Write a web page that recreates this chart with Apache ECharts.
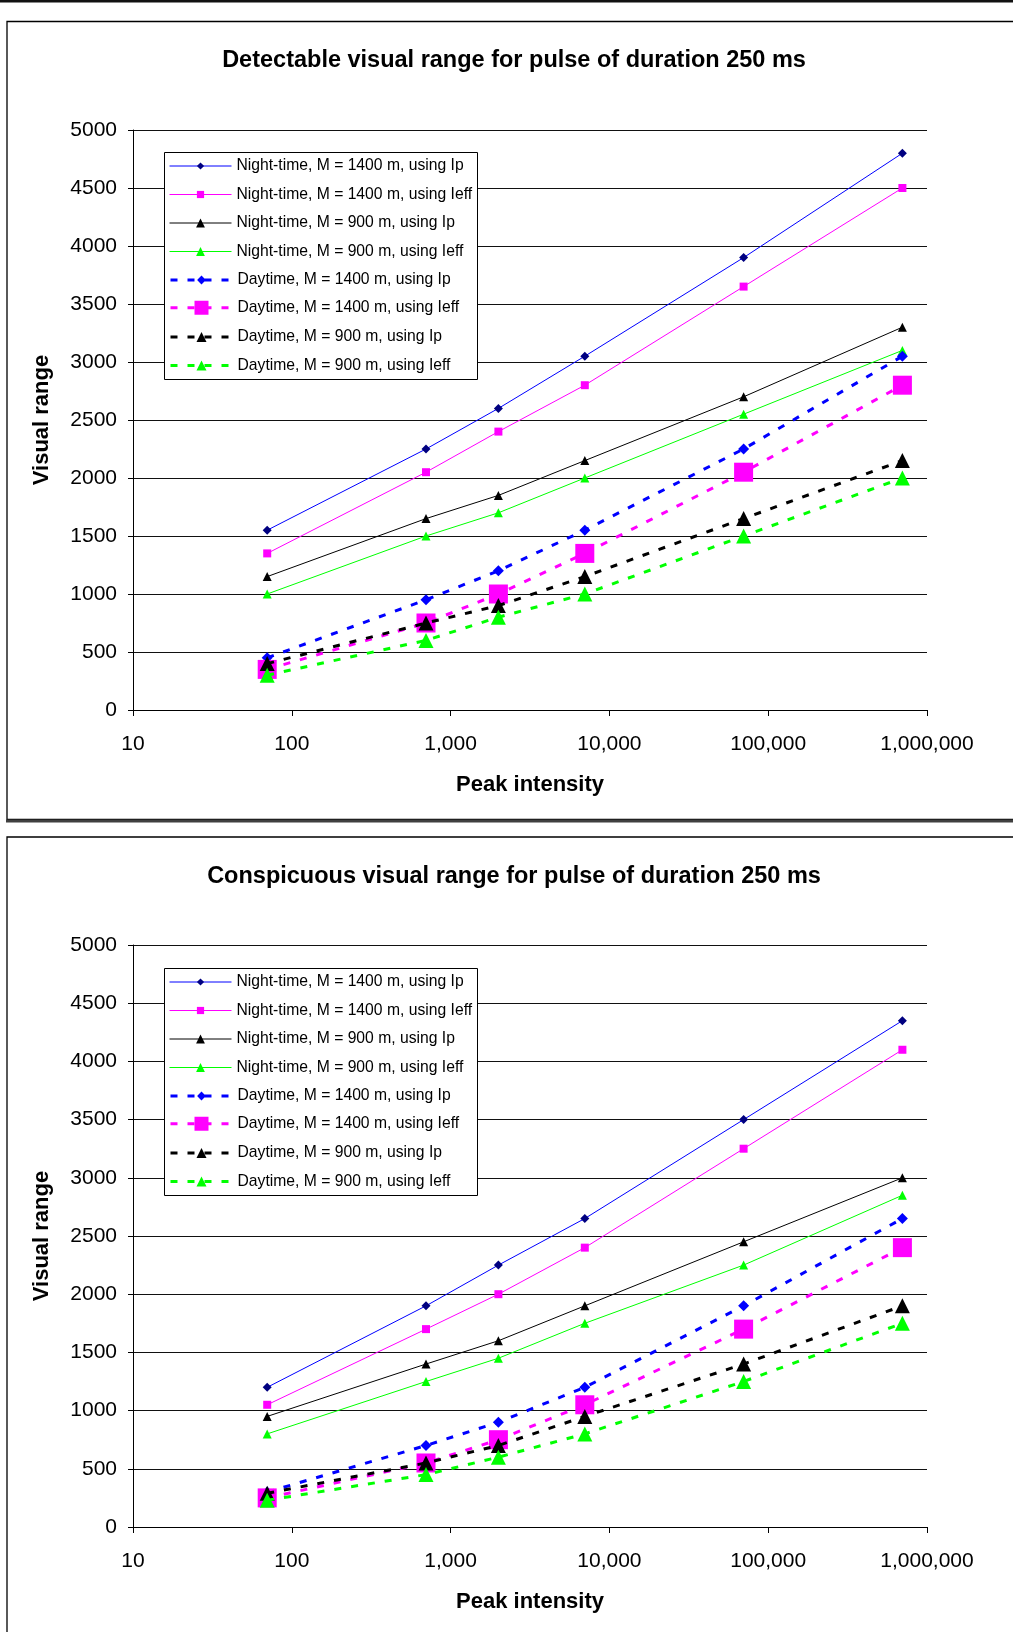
<!DOCTYPE html>
<html>
<head>
<meta charset="utf-8">
<script src="https://cdn.jsdelivr.net/npm/echarts@6/dist/echarts.min.js"></script>
<style>
html,body{margin:0;padding:0;background:#fff;}
#main{width:1013px;height:1632px;}
</style>
</head>
<body>
<div id="main"></div>
<script>
// ---- data ----
var peakIntensity = [70, 700, 2000, 7000, 70000, 700000];
var seriesNames = [
  'Night-time, M = 1400 m, using Ip',
  'Night-time, M = 1400 m, using Ieff',
  'Night-time, M = 900 m, using Ip',
  'Night-time, M = 900 m, using Ieff',
  'Daytime, M = 1400 m, using Ip',
  'Daytime, M = 1400 m, using Ieff',
  'Daytime, M = 900 m, using Ip',
  'Daytime, M = 900 m, using Ieff'
];
var chartTitles = [
  'Detectable visual range for pulse of duration 250 ms',
  'Conspicuous visual range for pulse of duration 250 ms'
];
// Detectable
var detNight1400Ip   = [1550, 2250, 2600, 3050, 3900, 4800];
var detNight1400Ieff = [1350, 2050, 2400, 2800, 3650, 4500];
var detNight900Ip    = [1150, 1650, 1850, 2150, 2700, 3300];
var detNight900Ieff  = [1000, 1500, 1700, 2000, 2550, 3100];
var detDay1400Ip     = [450, 950, 1200, 1550, 2250, 3050];
var detDay1400Ieff   = [350, 750, 1000, 1350, 2050, 2800];
var detDay900Ip      = [400, 750, 900, 1150, 1650, 2150];
var detDay900Ieff    = [300, 600, 800, 1000, 1500, 2000];
// Conspicuous
var conNight1400Ip   = [1200, 1900, 2250, 2650, 3500, 4350];
var conNight1400Ieff = [1050, 1700, 2000, 2400, 3250, 4100];
var conNight900Ip    = [950, 1400, 1600, 1900, 2450, 3000];
var conNight900Ieff  = [800, 1250, 1450, 1750, 2250, 2850];
var conDay1400Ip     = [300, 700, 900, 1200, 1900, 2650];
var conDay1400Ieff   = [250, 550, 750, 1050, 1700, 2400];
var conDay900Ip      = [290, 550, 700, 950, 1400, 1900];
var conDay900Ieff    = [230, 450, 600, 800, 1250, 1750];

var chartData = [
  [detNight1400Ip, detNight1400Ieff, detNight900Ip, detNight900Ieff, detDay1400Ip, detDay1400Ieff, detDay900Ip, detDay900Ieff],
  [conNight1400Ip, conNight1400Ieff, conNight900Ip, conNight900Ieff, conDay1400Ip, conDay1400Ieff, conDay900Ip, conDay900Ieff]
];

// ---- styles ----
var FONT = 'Liberation Sans, Arial, Helvetica, sans-serif';
var styles = [
  {line:'#0000FF', mark:'#000080', sym:'diamond',  size:9,  width:1, dash:'solid', legH:9},
  {line:'#FF00FF', mark:'#FF00FF', sym:'rect',     size:8,  width:1, dash:'solid', legH:9},
  {line:'#000000', mark:'#000000', sym:'triangle', size:9,  width:1, dash:'solid', legH:11},
  {line:'#00FF00', mark:'#00FF00', sym:'triangle', size:9,  width:1, dash:'solid', legH:11},
  {line:'#0000FF', mark:'#0000FF', sym:'diamond',  size:11, width:3, dash:[7,10], legH:11},
  {line:'#FF00FF', mark:'#FF00FF', sym:'rect',     size:19, width:3, dash:[7,10], legH:17.5},
  {line:'#000000', mark:'#000000', sym:'triangle', size:15, width:3, dash:[7,10], legH:12.5},
  {line:'#00FF00', mark:'#00FF00', sym:'triangle', size:15, width:3, dash:[7,10], legH:12.5}
];

var grids = [
  {left:133, top:130, width:794, height:580},
  {left:133, top:945, width:794, height:582}
];
var titleTops = [49, 865];
var legendRow0 = [166, 982];
var legendBoxTop = [152.5, 968.5];

function fmtNum(v){
  var s = String(Math.round(v));
  return s.replace(/\B(?=(\d{3})+(?!\d))/g, ',');
}
function plainNum(v){ return String(Math.round(v)); }

var option = {
  backgroundColor:'#fff',
  animation:false,
  title: [], grid: grids, xAxis: [], yAxis: [], series: [], legend: [], graphic: []
};

for (var k = 0; k < 2; k++) {
  option.title.push({
    text: chartTitles[k], left: 514, top: titleTops[k], textAlign:'center', padding:0,
    textStyle:{fontFamily:FONT, fontSize:23.5, fontWeight:'bold', color:'#000'}
  });
  option.xAxis.push({
    type:'log', logBase:10, gridIndex:k, min:10, max:1000000,
    axisLine:{show:true, lineStyle:{color:'#000', width:1}},
    axisTick:{show:true, length:6, lineStyle:{color:'#000'}},
    minorTick:{show:false}, splitLine:{show:false},
    axisLabel:{fontFamily:FONT, fontSize:21, color:'#000', margin:24, formatter:fmtNum},
    name:'Peak intensity', nameLocation:'middle', nameGap:64,
    nameTextStyle:{fontFamily:FONT, fontSize:22, fontWeight:'bold', color:'#000'}
  });
  option.yAxis.push({
    type:'value', gridIndex:k, min:0, max:5000, interval:500,
    axisLine:{show:true, lineStyle:{color:'#000', width:1}},
    axisTick:{show:true, length:5, lineStyle:{color:'#000'}},
    splitLine:{show:true, lineStyle:{color:'#111', width:1}},
    axisLabel:{fontFamily:FONT, fontSize:21, color:'#000', margin:16, formatter:plainNum},
    name:'Visual range', nameLocation:'middle', nameRotate:90, nameGap:80,
    nameTextStyle:{fontFamily:FONT, fontSize:22, fontWeight:'bold', color:'#000'}
  });
  for (var i = 0; i < 8; i++) {
    var st = styles[i];
    var vals = chartData[k][i];
    option.series.push({
      type:'line', name: seriesNames[i], xAxisIndex:k, yAxisIndex:k,
      data: peakIntensity.map(function(x, j){ return [x, vals[j]]; }),
      symbol: st.sym, symbolSize: st.size, showSymbol:true,
      color: st.mark,
      lineStyle:{color: st.line, width: st.width, type: st.dash, cap:'butt'},
      itemStyle:{color: st.mark, borderWidth:0},
      emphasis:{disabled:true},
      z: 2 + i*0.01
    });
    var h = st.legH;
    option.legend.push({
      show:true, left:169, top: legendRow0[k] + i*28.5 - Math.max(h,16)/2,
      orient:'horizontal', padding:0, itemGap:0, itemWidth:62, itemHeight:h,
      selectedMode:false, data:[seriesNames[i]],
      lineStyle:{width:'inherit'},
      textStyle:{fontFamily:FONT, fontSize:15.7, color:'#000', lineHeight:16}
    });
  }
  option.graphic.push({
    type:'rect', z:3, shape:{x:164.5, y:legendBoxTop[k], width:313, height:227},
    style:{fill:'#fff', stroke:'#000', lineWidth:1}
  });
}
// frame decorations
option.graphic.push(
  {type:'rect', z:0, shape:{x:0, y:0, width:1013, height:2.5}, style:{fill:'#111'}},
  {type:'rect', z:0, shape:{x:7, y:21.5, width:1010, height:798}, style:{fill:'none', stroke:'#000', lineWidth:1.3}},
  {type:'rect', z:0, shape:{x:6, y:819.5, width:1010, height:3}, style:{fill:'#404040'}},
  {type:'rect', z:0, shape:{x:7, y:837, width:1010, height:900}, style:{fill:'none', stroke:'#000', lineWidth:1.3}}
);

var chart = echarts.init(document.getElementById('main'), null, {renderer:'canvas'});
chart.setOption(option);
</script>
</body>
</html>
